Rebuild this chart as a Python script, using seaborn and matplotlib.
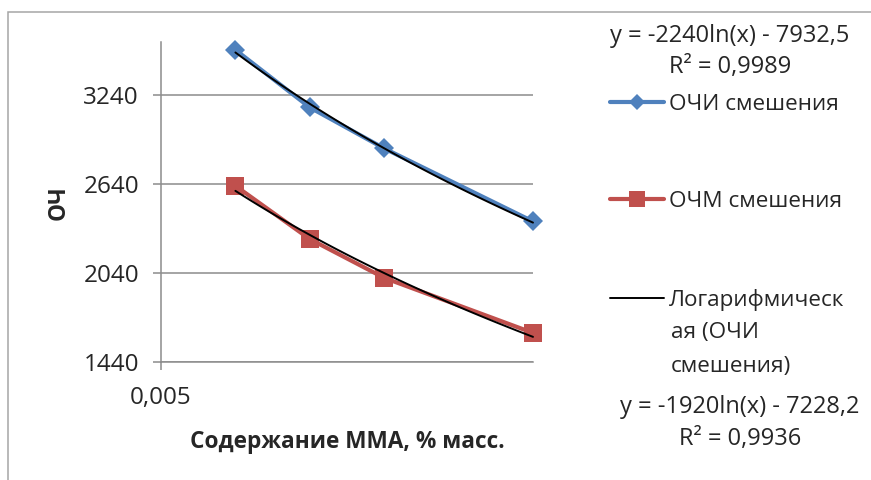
import matplotlib
matplotlib.use("Agg")
import matplotlib.pyplot as plt
import seaborn as sns
from matplotlib.lines import Line2D
from matplotlib.patches import Rectangle

# values
mma = [0.006, 0.007, 0.008, 0.010]
ochi = [3545, 3157, 2881, 2389]
ochm = [2629, 2270, 2009, 1638]

y_ticks = [1440, 2040, 2640, 3240]
x_ticks = [0.005]
x_tick_labels = ["0,005"]

series_names = ["ОЧИ смешения", "ОЧМ смешения", "Логарифмическ"]
trend_name_rest = "ая (ОЧИ\nсмешения)"
eq_ochi = ["y = -2240ln(x) - 7932,5", "R² = 0,9989"]
eq_ochm = ["y = -1920ln(x) - 7228,2", "R² = 0,9936"]

BLUE = "#4F81BD"
RED = "#C0504D"
GRID = "#8C8C8C"

W, H = 871, 480

sns.set_style("white")
plt.rcParams["font.family"] = ["Open Sans", "DejaVu Sans"]

fig = plt.figure(figsize=(W / 100, H / 100), dpi=100)
ax = fig.add_axes([161 / W, 1 - 362.3 / H, (533 - 161) / W, (362.3 - 41.7) / H])

# data series
sns.lineplot(x=mma, y=ochi, color=BLUE, linewidth=3, marker="D", markersize=10,
             markeredgewidth=0, clip_on=False, zorder=3, ax=ax)
sns.lineplot(x=mma, y=ochm, color=RED, linewidth=3, marker="s", markersize=13.5,
             markeredgewidth=0, clip_on=False, zorder=3, ax=ax)

# logarithmic trend lines
for yy in (ochi, ochm):
    sns.regplot(x=mma, y=yy, logx=True, ci=None, scatter=False, truncate=True,
                color="black", line_kws={"lw": 1.4, "zorder": 4, "clip_on": False}, ax=ax)

ax.set_xlim(0.005, 0.010)
ax.set_ylim(1440, 3600)
ax.set_xticks(x_ticks)
ax.set_xticklabels(x_tick_labels)
ax.set_yticks(y_ticks)
ax.set_xlabel("")
ax.set_ylabel("")

ax.yaxis.grid(True, color=GRID, lw=1.1)
ax.xaxis.grid(False)
for side in ("top", "right"):
    ax.spines[side].set_visible(False)
for side in ("left", "bottom"):
    ax.spines[side].set_color(GRID)
    ax.spines[side].set_linewidth(1.1)
ax.tick_params(left=True, bottom=True, direction="out", length=5.8, width=1.1,
               color=GRID, labelsize=17.5)
ax.tick_params(axis="y", pad=10)
ax.tick_params(axis="x", pad=11)

# axis titles
fig.text(347.7 / W, 1 - 448 / H, "Содержание ММА, % масс.", ha="center",
         va="baseline", fontsize=16.3, fontweight="bold")
fig.text(59 / W, 1 - 203 / H, "ОЧ", ha="center", va="center", rotation=90,
         fontsize=16.3, fontweight="bold")

# legend
handles = [
    Line2D([], [], color=BLUE, lw=3, marker="D", markersize=8, markeredgewidth=0),
    Line2D([], [], color=RED, lw=3, marker="s", markersize=12, markeredgewidth=0),
    Line2D([], [], color="black", lw=1.4),
]
fig.legend(handles, series_names, loc="upper left", bbox_to_anchor=(610 / W, 1 - 94 / H),
           frameon=False, fontsize=16.2, handlelength=2.4, handletextpad=0.2,
           labelspacing=3.39, borderaxespad=0, borderpad=0)
fig.text(671 / W, 1 - 371.7 / H, trend_name_rest, ha="left", va="baseline",
         fontsize=16.2, linespacing=1.77)

# trend line equations
fig.text(730 / W, 1 - 41.7 / H, eq_ochi[0], ha="center", va="baseline", fontsize=17)
fig.text(730 / W, 1 - 73.3 / H, eq_ochi[1], ha="center", va="baseline", fontsize=17)
fig.text(740 / W, 1 - 413.3 / H, eq_ochm[0], ha="center", va="baseline", fontsize=17)
fig.text(740 / W, 1 - 445 / H, eq_ochm[1], ha="center", va="baseline", fontsize=17)

# chart area border
fig.add_artist(Rectangle((8.4 / W, -0.1), 1.2, (H - 11.7) / H + 0.1,
                         transform=fig.transFigure, fill=False, ec="#A6A6A6", lw=1.1))

fig.savefig("out.png", dpi=100)
